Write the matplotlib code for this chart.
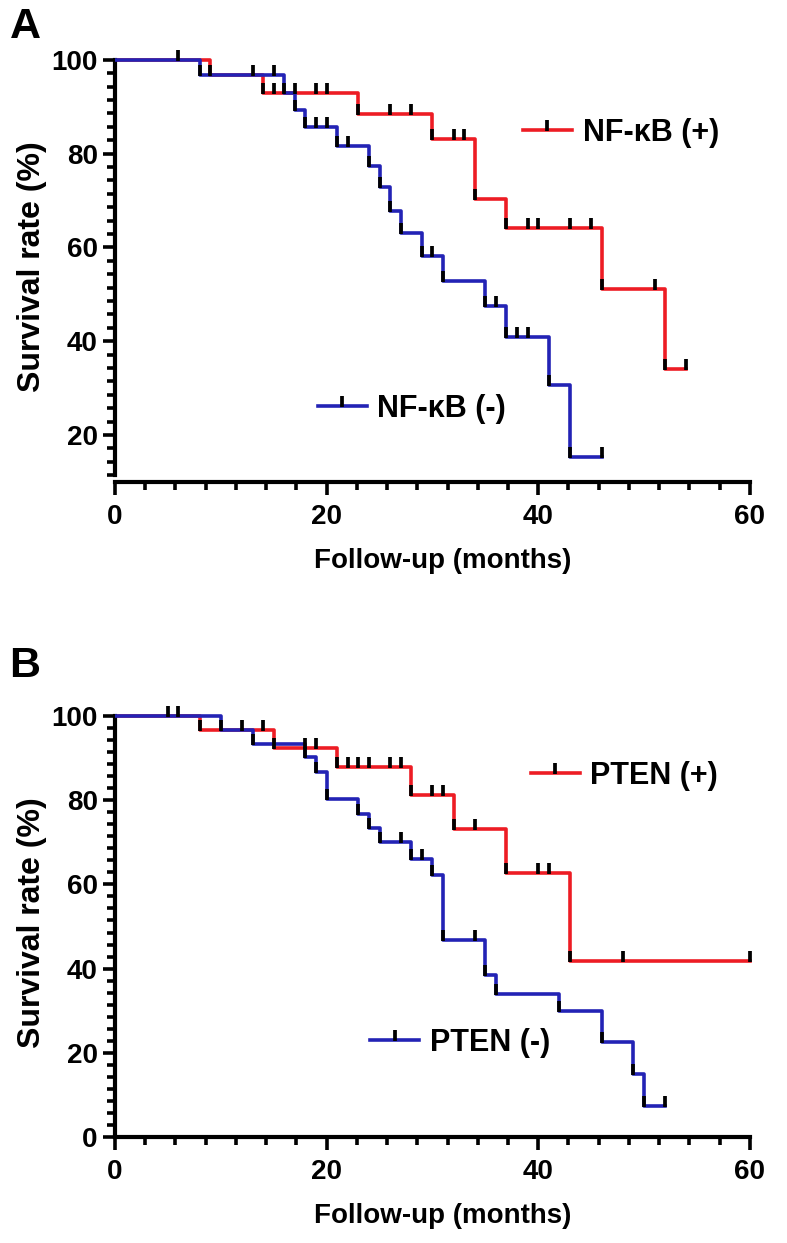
import numpy as np
import matplotlib.pyplot as plt
from matplotlib.path import Path
from matplotlib.lines import Line2D
from matplotlib.ticker import FixedLocator

plt.rcParams['font.family'] = ['Liberation Sans', 'DejaVu Sans']
plt.rcParams['font.weight'] = 'bold'

# panel A: NF-kB (+) / (-)  -- event times (months) and survival after each event (%)
a_pos_times = [9, 14, 23, 30, 34, 37, 46, 52]
a_pos_surv = [96.7, 92.9, 88.5, 83.2, 70.4, 64.1, 51.1, 34.1]
a_pos_end = 54
a_pos_cens = [6, 15, 17, 19, 20, 26, 28, 32, 33, 39, 40, 43, 45, 51, 54]

a_neg_times = [8, 16, 17, 18, 21, 24, 25, 26, 27, 29, 31, 35, 37, 41, 43]
a_neg_surv = [96.7, 93.0, 89.3, 85.7, 81.7, 77.4, 73.0, 67.8, 63.1, 58.1, 52.9, 47.5, 40.9, 30.6, 15.4]
a_neg_end = 46
a_neg_cens = [13, 15, 19, 20, 22, 30, 36, 38, 39, 46]

# panel B: PTEN (+) / (-)
b_pos_times = [8, 15, 21, 28, 32, 37, 43]
b_pos_surv = [96.7, 92.3, 88.0, 81.3, 73.1, 62.7, 41.8]
b_pos_end = 60
b_pos_cens = [5, 6, 12, 14, 18, 19, 22, 23, 24, 26, 27, 30, 31, 34, 40, 41, 48, 60]

b_neg_times = [10, 13, 18, 19, 20, 23, 24, 25, 28, 30, 31, 35, 36, 42, 46, 49, 50]
b_neg_surv = [96.6, 93.4, 90.2, 86.8, 80.3, 76.8, 73.4, 70.0, 66.1, 62.3, 46.9, 38.4, 33.9, 29.9, 22.6, 14.9, 7.4]
b_neg_end = 52
b_neg_cens = [27, 29, 34, 52]

RED = '#ED1C24'
BLUE = '#2323B5'
TICK = Path([(0, -0.1), (0, 1)])  # prism style tick sitting on the line
MS = 15
MEW = 2.7
LW = 2.6
FS = 20


def km(ax, times, surv, end, cens, color, z):
    t = np.r_[0, times, end]
    s = np.r_[100, surv, surv[-1]]
    ax.step(t, s, where='post', color=color, lw=LW, zorder=z)
    idx = np.searchsorted(t, cens, side='right') - 1
    ax.plot(np.r_[times, cens], np.r_[surv, s[idx]], ls='none', marker=TICK,
            ms=MS, mec='k', mew=MEW, zorder=5, clip_on=False)


def handle(color):
    return Line2D([], [], color=color, lw=LW, marker=TICK, ms=MS, mec='k', mew=MEW)


def setup(ax, ymin, yminor):
    ax.set_xlim(0, 62)
    ax.set_ylim(ymin, 102)
    for s in ['top', 'right']:
        ax.spines[s].set_visible(False)
    for s in ['left', 'bottom']:
        ax.spines[s].set_linewidth(3)
    ax.spines['bottom'].set_bounds(0, 60)
    ax.spines['left'].set_bounds(min(yminor), 100)
    ax.set_xticks([0, 20, 40, 60])
    ax.xaxis.set_minor_locator(FixedLocator(np.arange(22) * 20 / 7))
    ax.yaxis.set_minor_locator(FixedLocator(yminor))
    ax.tick_params(axis='x', which='major', pad=7)
    ax.tick_params(which='major', direction='out', length=9, width=2.6, labelsize=FS)
    ax.tick_params(which='minor', direction='out', length=5.5, width=2.6)
    ax.set_xlabel('Follow-up (months)', fontsize=FS, fontweight='bold', labelpad=13)
    ax.set_ylabel('Survival rate (%)', fontsize=23, fontweight='bold', labelpad=3)


def legends(ax, lab_pos, lab_neg, pos_xy, neg_xy):
    kw = dict(frameon=False, fontsize=22, handlelength=1.6, handletextpad=0.35,
              borderpad=0, borderaxespad=0, loc='center left', numpoints=1)
    l1 = ax.legend([handle(RED)], [lab_pos], bbox_to_anchor=pos_xy, **kw)
    ax.add_artist(l1)
    ax.legend([handle(BLUE)], [lab_neg], bbox_to_anchor=neg_xy, **kw)


fig = plt.figure(figsize=(7.87, 12.43), dpi=100)

axA = fig.add_axes([115 / 787, 1 - 482 / 1243, 656 / 787, 431.5 / 1243])
km(axA, a_pos_times, a_pos_surv, a_pos_end, a_pos_cens, RED, 2)
km(axA, a_neg_times, a_neg_surv, a_neg_end, a_neg_cens, BLUE, 3)
setup(axA, 10, 100 - np.arange(32) * 20 / 7)
axA.set_yticks([20, 40, 60, 80, 100])
legends(axA, 'NF-\u03baB (+)', 'NF-\u03baB (-)', (0.622, 0.809), (0.309, 0.169))

axB = fig.add_axes([115 / 787, 1 - 1137 / 1243, 656 / 787, 429.4 / 1243])
km(axB, b_pos_times, b_pos_surv, b_pos_end, b_pos_cens, RED, 2)
km(axB, b_neg_times, b_neg_surv, b_neg_end, b_neg_cens, BLUE, 3)
setup(axB, 0, np.arange(36) * 20 / 7)
axB.set_yticks([0, 20, 40, 60, 80, 100])
legends(axB, 'PTEN (+)', 'PTEN (-)', (0.634, 0.841), (0.389, 0.219))

fig.text(0.012, 1 - 27 / 1243, 'A', fontsize=31, fontweight='bold', va='center')
fig.text(0.012, 1 - 666 / 1243, 'B', fontsize=31, fontweight='bold', va='center')

fig.savefig('out.png', dpi=100)
